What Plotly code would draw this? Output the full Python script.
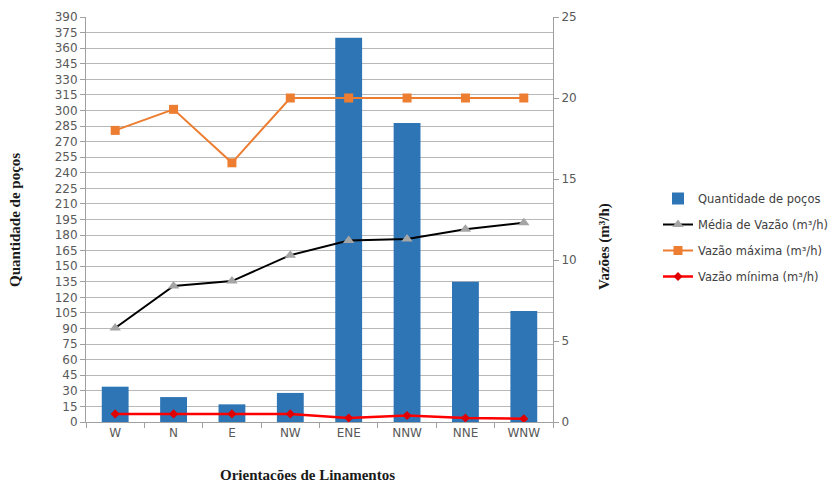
import plotly.graph_objects as go

orientacoes = ["W", "N", "E", "NW", "ENE", "NNW", "NNE", "WNW"]
quantidade_pocos = [34, 24, 17, 28, 370, 288, 135, 107]
media_vazao = [5.8, 8.4, 8.7, 10.3, 11.2, 11.3, 11.9, 12.3]
vazao_maxima = [18.0, 19.3, 16.0, 20.0, 20.0, 20.0, 20.0, 20.0]
vazao_minima = [0.5, 0.5, 0.5, 0.5, 0.25, 0.4, 0.25, 0.2]

left_ticks = list(range(0, 391, 15))
right_ticks = [0, 5, 10, 15, 20, 25]

tick_font = dict(family="DejaVu Sans", size=12, color="#595959")
title_font = dict(family="Liberation Serif", size=15, color="#1a1a1a")

# plot-area geometry in page pixels
W, H = 837, 483
L, R, T, B = 86, 284, 17, 61
PW, PH = W - L - R, H - T - B

fig = go.Figure()
fig.add_trace(go.Bar(
    x=orientacoes, y=quantidade_pocos, name="Quantidade de poços",
    marker=dict(color="#2E75B6", line=dict(width=0)), width=0.46, yaxis="y",
    legendgroup="a",
))
fig.add_trace(go.Scatter(
    x=orientacoes, y=media_vazao, name="Média de Vazão (m³/h)", yaxis="y2",
    mode="lines+markers", line=dict(color="#000000", width=2),
    marker=dict(symbol="triangle-up", size=10, color="#A5A5A5"),
    legendgroup="b",
))
fig.add_trace(go.Scatter(
    x=orientacoes, y=vazao_maxima, name="Vazão máxima (m³/h)", yaxis="y2",
    mode="lines+markers", line=dict(color="#ED7D31", width=2),
    marker=dict(symbol="square", size=9, color="#ED7D31"),
    legendgroup="c",
))
fig.add_trace(go.Scatter(
    x=orientacoes, y=vazao_minima, name="Vazão mínima (m³/h)", yaxis="y2",
    mode="lines+markers", line=dict(color="#FF0000", width=2.5),
    marker=dict(symbol="diamond", size=7, color="#E00000"),
    legendgroup="d",
))


def px_to_paper(px, py):
    return (px - L) / PW, (H - B - py) / PH


lx, ly = px_to_paper(658, 184)

fig.update_layout(
    width=W, height=H,
    margin=dict(l=L, r=R, t=T, b=B, autoexpand=False),
    paper_bgcolor="white", plot_bgcolor="white",
    xaxis=dict(
        type="category", tickfont=tick_font, ticks="outside", tickson="boundaries",
        ticklen=5, tickcolor="#A0A0A0", showline=True, linecolor="#A0A0A0",
        linewidth=1, showgrid=False, range=[-0.5, 7.5],
    ),
    yaxis=dict(
        range=[0, 390], tickvals=left_ticks, tickfont=tick_font,
        ticks="outside", ticklen=5, tickcolor="#A0A0A0",
        showline=True, linecolor="#A0A0A0", linewidth=1,
        showgrid=True, gridcolor="#B8B8B8", gridwidth=1, zeroline=False,
    ),
    yaxis2=dict(
        range=[0, 25], tickvals=right_ticks, tickfont=tick_font,
        overlaying="y", side="right", anchor="x",
        ticks="outside", ticklen=5, tickcolor="#A0A0A0",
        showline=True, linecolor="#A0A0A0", linewidth=1,
        showgrid=False, zeroline=False,
    ),
    legend=dict(
        x=lx, y=ly, xref="paper", yref="paper", xanchor="left", yanchor="top",
        font=dict(family="DejaVu Sans", size=11.5, color="#404040"),
        tracegroupgap=7, itemwidth=30, bgcolor="rgba(0,0,0,0)",
    ),
    showlegend=True,
)

titles = [
    ("<b>Quantidade de poços</b>", 15, 220, -90),
    ("<b>Vazões (m³/h)</b>", 604, 247, -90),
    ("<b>Orientacões de Linamentos</b>", 307, 475, 0),
]
for text, px, py, ang in titles:
    ax, ay = px_to_paper(px, py)
    fig.add_annotation(text=text, x=ax, y=ay, xref="paper", yref="paper",
                       xanchor="center", yanchor="middle", showarrow=False,
                       textangle=ang, font=title_font)

fig.write_html("out.html")
